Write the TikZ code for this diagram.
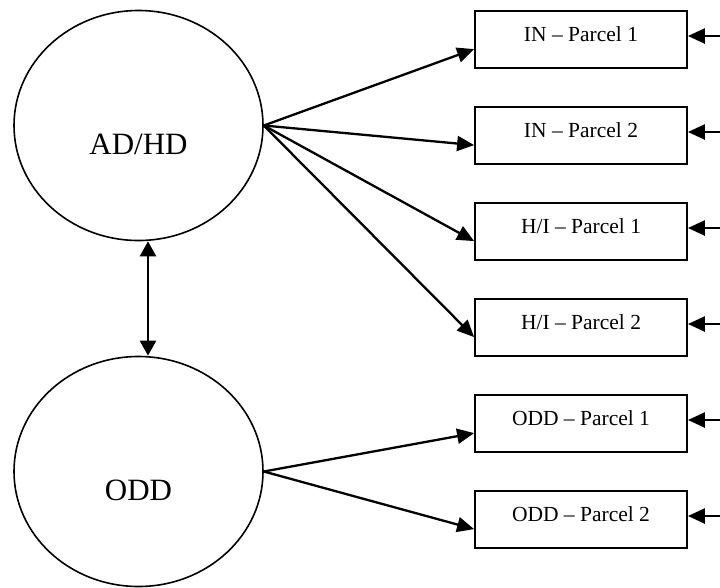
\documentclass[tikz,border=0pt]{standalone}
\usepackage{fontspec}
\setmainfont{Liberation Serif}
\usetikzlibrary{shapes.geometric,arrows.meta}

\tikzset{
  latent/.style={draw, ellipse, line width=1.6pt, inner sep=0pt,
    minimum width=249pt, minimum height=230pt},
  latenttext/.style={anchor=base, inner sep=0pt,
    font=\fontsize{31}{37}\selectfont},
  parcel/.style={draw, rectangle, line width=1.8pt, inner sep=0pt,
    minimum width=212pt, minimum height=57pt},
  parceltext/.style={anchor=base, inner sep=0pt,
    font=\fontsize{21.5}{26}\selectfont},
  arr/.style={line width=2.3pt, -{Triangle[length=17pt,width=15pt]}},
  dblarr/.style={line width=2.3pt, {Triangle[length=15pt,width=16pt]}-{Triangle[length=15pt,width=16pt]}}
}

\begin{document}
\begin{tikzpicture}[x=1pt, y=-1pt]
  \useasboundingbox (0,0) rectangle (720,587);

  % latent factors
  \node[latent] (adhd) at (138.5,125.5) {};
  \node[latenttext] (adhdt) at (138.5,154) {AD/HD};
  \node[latent] (odd) at (138.5,471.5) {};
  \node[latenttext] (oddt) at (138.5,500) {ODD};

  % parcels
  \foreach \n/\t/\lbl in {1/11/{IN – Parcel 1}, 2/107/{IN – Parcel 2},
                          3/203/{H/I – Parcel 1}, 4/299/{H/I – Parcel 2},
                          5/395/{ODD – Parcel 1}, 6/491/{ODD – Parcel 2}}{
    \node[parcel] (b\n) at (581,\t+28.5) {};
    \node[parceltext] (t\n) at ([yshift=-31pt]b\n.north) {\lbl};
    \coordinate (e\n) at (720,\t+25);
    \draw[arr] (e\n) -- (e\n -| b\n.east);
  }

  % loadings
  \foreach \n in {1,2,3,4}{
    \draw[arr] (adhd.east) -- ([yshift=-39pt]b\n.north west);
  }
  \foreach \n in {5,6}{
    \draw[arr] (odd.east) -- ([yshift=-39pt]b\n.north west);
  }

  % factor correlation
  \draw[dblarr] ([xshift=9.5pt]adhd.south) -- ([xshift=9.5pt]odd.north);
\end{tikzpicture}
\end{document}
